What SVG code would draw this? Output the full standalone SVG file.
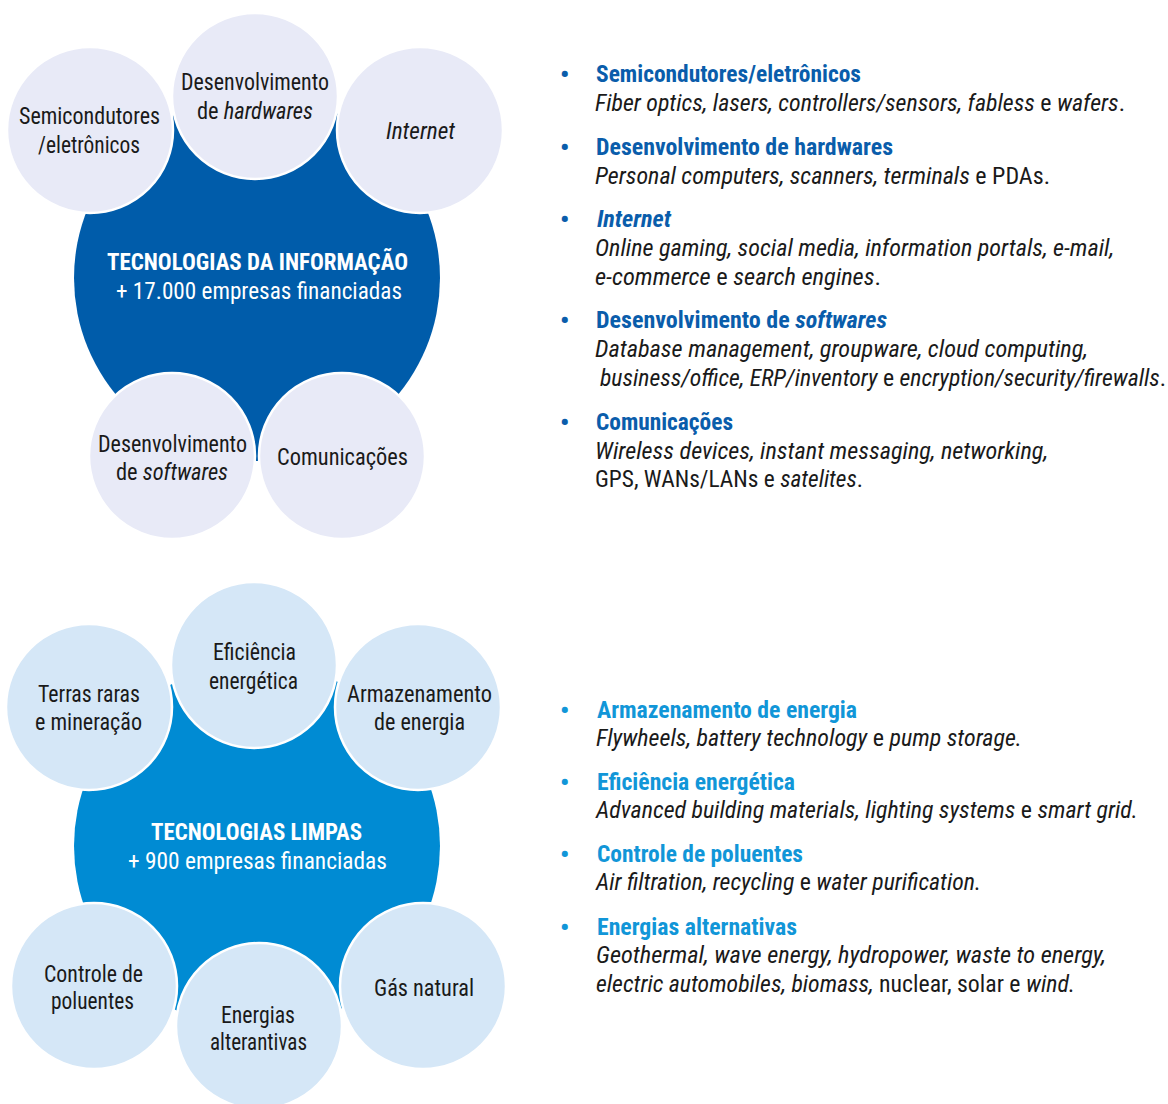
<svg xmlns="http://www.w3.org/2000/svg" width="1168" height="1104" viewBox="0 0 1168 1104">
<style>
text{font-family:"Liberation Sans Narrow","Roboto Condensed","Arial Narrow","Liberation Sans",sans-serif;}
.lbl{font-size:23px;fill:#1a1a1a;text-anchor:middle;}
.ttl{font-size:23px;fill:#ffffff;text-anchor:middle;font-weight:bold;}
.sub{font-size:23px;fill:#ffffff;text-anchor:middle;}
.sm1{fill:#E8EAF7;stroke:#ffffff;stroke-width:2.5;}
.sm2{fill:#D5E7F7;stroke:#ffffff;stroke-width:2.5;}
.h1{font-size:23px;font-weight:bold;fill:#0A5DAB;}
.h2{font-size:23px;font-weight:bold;fill:#1196D8;}
.b1{font-size:26px;font-weight:bold;fill:#0A5DAB;}
.b2{font-size:26px;font-weight:bold;fill:#1196D8;}
.d{font-size:23px;fill:#1a1a1a;font-style:italic;}
.n{font-style:normal;}
.i{font-style:italic;}
</style>
<rect width="1168" height="1104" fill="#ffffff"/>

<g id="ti-cluster">
<g id="ti-center">
<circle cx="257" cy="278" r="183" fill="#005CAA"/>
<text class="ttl" x="257.5" y="270" textLength="301" lengthAdjust="spacingAndGlyphs">TECNOLOGIAS DA INFORMAÇÃO</text>
<text class="sub" x="259" y="299" textLength="286" lengthAdjust="spacingAndGlyphs">+ 17.000 empresas financiadas</text>
</g>
<g id="ti-semi">
<circle class="sm1" cx="90" cy="130" r="83"/>
<text class="lbl" x="89.5" y="124" textLength="141" lengthAdjust="spacingAndGlyphs">Semicondutores</text>
<text class="lbl" x="89" y="153" textLength="102" lengthAdjust="spacingAndGlyphs">/eletrônicos</text>
</g>
<g id="ti-hard">
<circle class="sm1" cx="255" cy="96" r="83"/>
<text class="lbl" x="255" y="90" textLength="148" lengthAdjust="spacingAndGlyphs">Desenvolvimento</text>
<text class="lbl" x="255" y="119" textLength="116" lengthAdjust="spacingAndGlyphs">de <tspan class="i">hardwares</tspan></text>
</g>
<g id="ti-internet">
<circle class="sm1" cx="420" cy="130" r="83"/>
<text class="lbl i" x="420.5" y="139" textLength="69" lengthAdjust="spacingAndGlyphs">Internet</text>
</g>
<g id="ti-soft">
<circle class="sm1" cx="172" cy="456" r="83"/>
<text class="lbl" x="172.5" y="452" textLength="149" lengthAdjust="spacingAndGlyphs">Desenvolvimento</text>
<text class="lbl" x="172" y="480" textLength="112" lengthAdjust="spacingAndGlyphs">de <tspan class="i">softwares</tspan></text>
</g>
<g id="ti-com">
<circle class="sm1" cx="342" cy="456" r="83"/>
<text class="lbl" x="342.5" y="465" textLength="131" lengthAdjust="spacingAndGlyphs">Comunicações</text>
</g>
</g>

<g id="ti-list">
<text class="b1" x="560" y="83">•</text>
<text class="h1" x="596" y="82" textLength="265" lengthAdjust="spacingAndGlyphs">Semicondutores/eletrônicos</text>
<text class="d" x="595" y="111" textLength="530" lengthAdjust="spacingAndGlyphs">Fiber optics, lasers, controllers/sensors, fabless <tspan class="n">e</tspan> wafers<tspan class="n">.</tspan></text>
<text class="b1" x="560" y="156">•</text>
<text class="h1" x="596" y="155" textLength="297" lengthAdjust="spacingAndGlyphs">Desenvolvimento de hardwares</text>
<text class="d" x="595" y="184" textLength="455" lengthAdjust="spacingAndGlyphs">Personal computers, scanners, terminals <tspan class="n">e PDAs.</tspan></text>
<text class="b1" x="560" y="228">•</text>
<text class="h1 i" x="597" y="227" textLength="74" lengthAdjust="spacingAndGlyphs">Internet</text>
<text class="d" x="595" y="256" textLength="519" lengthAdjust="spacingAndGlyphs">Online gaming, social media, information portals, e-mail,</text>
<text class="d" x="595" y="285" textLength="286" lengthAdjust="spacingAndGlyphs">e-commerce <tspan class="n">e</tspan> search engines<tspan class="n">.</tspan></text>
<text class="b1" x="560" y="329">•</text>
<text class="h1" x="596" y="328" textLength="291" lengthAdjust="spacingAndGlyphs">Desenvolvimento de <tspan class="i">softwares</tspan></text>
<text class="d" x="595" y="357" textLength="493" lengthAdjust="spacingAndGlyphs">Database management, groupware, cloud computing,</text>
<text class="d" x="600" y="386" textLength="566" lengthAdjust="spacingAndGlyphs">business/office, ERP/inventory <tspan class="n">e</tspan> encryption/security/firewalls<tspan class="n">.</tspan></text>
<text class="b1" x="560" y="431">•</text>
<text class="h1" x="596" y="430" textLength="137" lengthAdjust="spacingAndGlyphs">Comunicações</text>
<text class="d" x="595" y="459" textLength="453" lengthAdjust="spacingAndGlyphs">Wireless devices, instant messaging, networking,</text>
<text class="d" x="595" y="487" textLength="268" lengthAdjust="spacingAndGlyphs"><tspan class="n">GPS, WANs/LANs e </tspan>satelites<tspan class="n">.</tspan></text>
</g>

<g id="tl-cluster">
<g id="tl-center">
<circle cx="257" cy="846" r="183" fill="#008BD3"/>
<text class="ttl" x="256.5" y="840" textLength="211" lengthAdjust="spacingAndGlyphs">TECNOLOGIAS LIMPAS</text>
<text class="sub" x="257.5" y="869" textLength="259" lengthAdjust="spacingAndGlyphs">+ 900 empresas financiadas</text>
</g>
<g id="tl-terras">
<circle class="sm2" cx="89" cy="707" r="83"/>
<text class="lbl" x="89" y="702" textLength="102" lengthAdjust="spacingAndGlyphs">Terras raras</text>
<text class="lbl" x="88.5" y="730" textLength="107" lengthAdjust="spacingAndGlyphs">e mineração</text>
</g>
<g id="tl-efic">
<circle class="sm2" cx="254" cy="665" r="83"/>
<text class="lbl" x="254.5" y="660" textLength="83" lengthAdjust="spacingAndGlyphs">Eficiência</text>
<text class="lbl" x="253.5" y="689" textLength="89" lengthAdjust="spacingAndGlyphs">energética</text>
</g>
<g id="tl-armaz">
<circle class="sm2" cx="418" cy="707" r="83"/>
<text class="lbl" x="419.5" y="702" textLength="145" lengthAdjust="spacingAndGlyphs">Armazenamento</text>
<text class="lbl" x="419.5" y="730" textLength="91" lengthAdjust="spacingAndGlyphs">de energia</text>
</g>
<g id="tl-controle">
<circle class="sm2" cx="94" cy="986" r="83"/>
<text class="lbl" x="93.5" y="982" textLength="99" lengthAdjust="spacingAndGlyphs">Controle de</text>
<text class="lbl" x="92.5" y="1009" textLength="83" lengthAdjust="spacingAndGlyphs">poluentes</text>
</g>
<g id="tl-energias">
<circle class="sm2" cx="259" cy="1026" r="83"/>
<text class="lbl" x="258" y="1023" textLength="74" lengthAdjust="spacingAndGlyphs">Energias</text>
<text class="lbl" x="258.5" y="1050" textLength="97" lengthAdjust="spacingAndGlyphs">alterantivas</text>
</g>
<g id="tl-gas">
<circle class="sm2" cx="423" cy="986" r="83"/>
<text class="lbl" x="424" y="996" textLength="100" lengthAdjust="spacingAndGlyphs">Gás natural</text>
</g>
</g>

<g id="tl-list">
<text class="b2" x="560" y="719">•</text>
<text class="h2" x="597" y="718" textLength="260" lengthAdjust="spacingAndGlyphs">Armazenamento de energia</text>
<text class="d" x="596" y="746" textLength="426" lengthAdjust="spacingAndGlyphs">Flywheels, battery technology <tspan class="n">e</tspan> pump storage.</text>
<text class="b2" x="560" y="791">•</text>
<text class="h2" x="597" y="790" textLength="198" lengthAdjust="spacingAndGlyphs">Eficiência energética</text>
<text class="d" x="596" y="818" textLength="542" lengthAdjust="spacingAndGlyphs">Advanced building materials, lighting systems <tspan class="n">e</tspan> smart grid.</text>
<text class="b2" x="560" y="863">•</text>
<text class="h2" x="597" y="862" textLength="206" lengthAdjust="spacingAndGlyphs">Controle de poluentes</text>
<text class="d" x="596" y="890" textLength="385" lengthAdjust="spacingAndGlyphs">Air filtration, recycling <tspan class="n">e</tspan> water purification.</text>
<text class="b2" x="560" y="936">•</text>
<text class="h2" x="597" y="935" textLength="200" lengthAdjust="spacingAndGlyphs">Energias alternativas</text>
<text class="d" x="596" y="963" textLength="510" lengthAdjust="spacingAndGlyphs">Geothermal, wave energy, hydropower, waste to energy,</text>
<text class="d" x="596" y="992" textLength="479" lengthAdjust="spacingAndGlyphs">electric automobiles, biomass, <tspan class="n">nuclear, solar e </tspan>wind.</text>
</g>
</svg>
